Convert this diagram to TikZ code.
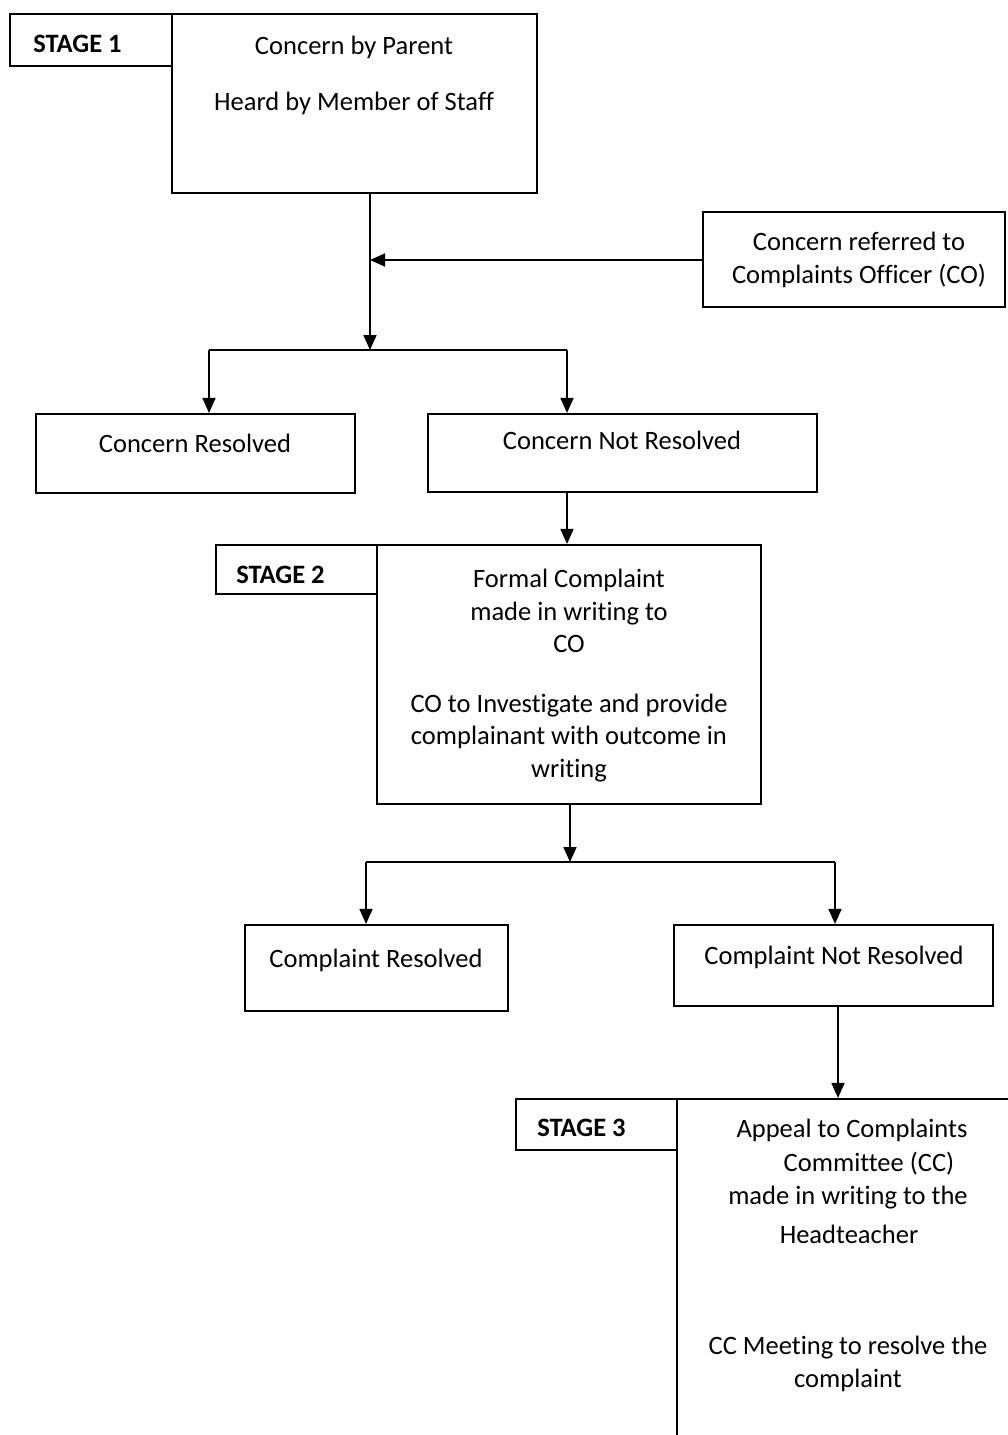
\documentclass[tikz,border=0pt]{standalone}
\usepackage{fontspec}
\setmainfont[RawFeature={-liga;-clig;-dlig;-calt;-rlig}]{Carlito}
\usetikzlibrary{arrows.meta,fit}
\tikzset{
  box/.style={draw, line width=1.6pt, inner sep=0pt, fill=none},
  lbl/.style={inner sep=0pt, align=center, font=\fontsize{19.9}{24.6}\selectfont},
  stg/.style={inner sep=0pt, anchor=west, font=\fontsize{19.9}{24.6}\selectfont\bfseries},
  conn/.style={line width=1.3pt},
  arr/.style={conn, -{Triangle[length=15pt*0.75, width=13pt*0.75]}},
}
\begin{document}
\begin{tikzpicture}[x=0.75pt,y=-0.75pt]
\useasboundingbox (0,0) rectangle (1007,1435);
% ---- Stage 1 ----
\coordinate (s1a) at (10,14);  \coordinate (s1b) at (172,66);
\node[box, fit=(s1a)(s1b)] (stage1) {};
\node[stg] (stage1t) at (33,44) {STAGE 1};
\coordinate (m1a) at (172,14); \coordinate (m1b) at (537,193);
\node[box, fit=(m1a)(m1b)] (main1) {};
\node[lbl] (main1t1) at (354,47) {Concern by Parent};
\node[lbl] (main1t2) at (354,103) {Heard by Member of Staff};
\coordinate (coa) at (703,212); \coordinate (cob) at (1005,307);
\node[box, fit=(coa)(cob)] (co) {};
\node[lbl] (cot) at (859,260) {Concern referred to\\Complaints Officer (CO)};
\coordinate (j1) at (370,260);
\coordinate (b1) at (370,350);
\coordinate (b1l) at (209,350);
\coordinate (b1r) at (567,350);
\coordinate (cra) at (36,414); \coordinate (crb) at (355,493);
\node[box, fit=(cra)(crb)] (cr) {};
\node[lbl] (crt) at (195,443) {Concern Resolved};
\coordinate (cna) at (428,414); \coordinate (cnb) at (817,492);
\node[box, fit=(cna)(cnb)] (cnr) {};
\node[lbl] (cnrt) at (622,440) {Concern Not Resolved};
\draw[arr] (main1.south -| b1) -- (b1);
\draw[arr] (co.west |- j1) -- (j1);
\draw[conn] (b1l) -- (b1r);
\draw[arr] (b1l) -- (cr.north -| b1l);
\draw[arr] (b1r) -- (cnr.north -| b1r);
% ---- Stage 2 ----
\coordinate (s2a) at (216,545); \coordinate (s2b) at (377,594);
\node[box, fit=(s2a)(s2b)] (stage2) {};
\node[stg] (stage2t) at (236,575) {STAGE 2};
\coordinate (fca) at (377,545); \coordinate (fcb) at (761,804);
\node[box, fit=(fca)(fcb)] (fc) {};
\node[lbl] (fct1) at (569,611) {Formal Complaint\\made in writing to\\CO};
\node[lbl] (fct2) at (569,738) {CO to Investigate and provide\\complainant with outcome in\\writing};
\draw[arr] (cnr.south -| b1r) -- (fc.north -| b1r);
\coordinate (b2) at (570,862);
\coordinate (b2l) at (366,862);
\coordinate (b2r) at (835,862);
\coordinate (csa) at (245,925); \coordinate (csb) at (508,1011);
\node[box, fit=(csa)(csb)] (crs) {};
\node[lbl] (crst) at (376,960) {Complaint Resolved};
\coordinate (cxa) at (674,925); \coordinate (cxb) at (993,1006);
\node[box, fit=(cxa)(cxb)] (cnrs) {};
\node[lbl] (cnrst) at (834,957) {Complaint Not Resolved};
\draw[arr] (fc.south -| b2) -- (b2);
\draw[conn] (b2l) -- (b2r);
\draw[arr] (b2l) -- (crs.north -| b2l);
\draw[arr] (b2r) -- (cnrs.north -| b2r);
% ---- Stage 3 ----
\coordinate (s3a) at (516,1099); \coordinate (s3b) at (677,1150);
\node[box, fit=(s3a)(s3b)] (stage3) {};
\node[stg] (stage3t) at (537,1128) {STAGE 3};
\coordinate (apa) at (677,1099); \coordinate (apb) at (1040,1470);
\node[box, fit=(apa)(apb)] (ap) {};
\node[lbl] (apt1) at (852,1130) {Appeal to Complaints};
\node[lbl] (apt2) at (869,1164) {Committee (CC)};
\node[lbl] (apt3) at (848,1198) {made in writing to the};
\node[lbl] (apt4) at (849,1234) {Headteacher};
\node[lbl] (apt5) at (848,1364) {CC Meeting to resolve the\\complaint};
\coordinate (k3) at (838,1006);
\draw[arr] (cnrs.south -| k3) -- (ap.north -| k3);
\end{tikzpicture}
\end{document}
